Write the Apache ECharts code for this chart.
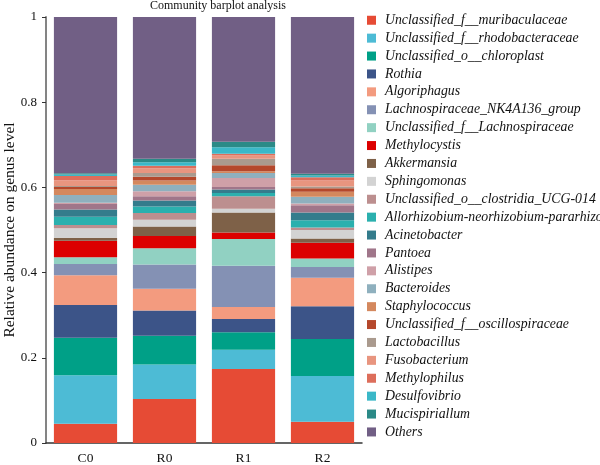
<!DOCTYPE html>
<html>
<head>
<meta charset="utf-8">
<script src="https://cdn.jsdelivr.net/npm/echarts@6/dist/echarts.min.js"></script>
<style>html,body{margin:0;padding:0;background:#fff}#c{width:600px;height:465px}</style>
</head>
<body>
<div id="c"></div>
<script>
const categories = ["C0", "R0", "R1", "R2"];
const genera = [
  "Unclassified_f__muribaculaceae",
  "Unclassified_f__rhodobacteraceae",
  "Unclassified_o__chloroplast",
  "Rothia",
  "Algoriphagus",
  "Lachnospiraceae_NK4A136_group",
  "Unclassified_f__Lachnospiraceae",
  "Methylocystis",
  "Akkermansia",
  "Sphingomonas",
  "Unclassified_o__clostridia_UCG-014",
  "Allorhizobium-neorhizobium-pararhizobium",
  "Acinetobacter",
  "Pantoea",
  "Alistipes",
  "Bacteroides",
  "Staphylococcus",
  "Unclassified_f__oscillospiraceae",
  "Lactobacillus",
  "Fusobacterium",
  "Methylophilus",
  "Desulfovibrio",
  "Mucispiriallum",
  "Others"
];
// values per genus, order C0, R0, R1, R2
const muribaculaceae   = [0.045, 0.103, 0.174, 0.050];
const rhodobacteraceae = [0.114, 0.081, 0.045, 0.107];
const chloroplast      = [0.088, 0.068, 0.041, 0.087];
const rothia           = [0.077, 0.059, 0.031, 0.077];
const algoriphagus     = [0.070, 0.051, 0.028, 0.067];
const nk4a136          = [0.026, 0.057, 0.097, 0.025];
const lachnospiraceae  = [0.016, 0.038, 0.063, 0.020];
const methylocystis    = [0.039, 0.029, 0.015, 0.037];
const akkermansia      = [0.007, 0.022, 0.047, 0.010];
const sphingomonas     = [0.022, 0.016, 0.009, 0.020];
const clostridia       = [0.008, 0.016, 0.029, 0.006];
const allorhizobium    = [0.019, 0.015, 0.008, 0.017];
const acinetobacter    = [0.017, 0.014, 0.008, 0.018];
const pantoea          = [0.013, 0.010, 0.006, 0.017];
const alistipes        = [0.003, 0.012, 0.021, 0.004];
const bacteroides      = [0.018, 0.015, 0.012, 0.016];
const staphylococcus   = [0.014, 0.010, 0.004, 0.012];
const oscillospiraceae = [0.005, 0.009, 0.014, 0.008];
const lactobacillus    = [0.002, 0.009, 0.015, 0.004];
const fusobacterium    = [0.014, 0.011, 0.008, 0.014];
const methylophilus    = [0.010, 0.006, 0.004, 0.008];
const desulfovibrio    = [0.003, 0.008, 0.015, 0.004];
const mucispiriallum   = [0.003, 0.008, 0.013, 0.004];
const others           = [0.367, 0.334, 0.293, 0.368];
const yTicks = [0, 0.2, 0.4, 0.6, 0.8, 1];

const seriesValues = [muribaculaceae, rhodobacteraceae, chloroplast, rothia, algoriphagus,
  nk4a136, lachnospiraceae, methylocystis, akkermansia, sphingomonas, clostridia,
  allorhizobium, acinetobacter, pantoea, alistipes, bacteroides, staphylococcus,
  oscillospiraceae, lactobacillus, fusobacterium, methylophilus, desulfovibrio,
  mucispiriallum, others];
const colors = ["#E64B35", "#4DBBD5", "#00A087", "#3C5488", "#F39B7F", "#8491B4", "#91D1C2",
  "#DC0000", "#7E6148", "#D3D3D3", "#BC8F8F", "#2BB0AE", "#347C8C", "#A0768A", "#CFA0A8",
  "#8FB0BE", "#D4885E", "#B5482C", "#AA9A8E", "#E8957F", "#DD6E5B", "#3BB8C8", "#2B8A87",
  "#715F85"];

const font = "'Liberation Serif', 'DejaVu Serif', serif";
const chart = echarts.init(document.getElementById('c'), null, {renderer: 'canvas'});
chart.setOption({
  animation: false,
  color: colors,
  title: {
    text: "Community barplot analysis",
    left: 218, top: 0, textAlign: 'center', padding: 0,
    textStyle: {fontFamily: font, fontSize: 12, fontWeight: 'normal', color: '#111'}
  },
  legend: {
    orient: 'vertical',
    left: 367, top: 13,
    itemWidth: 9, itemHeight: 9,
    itemGap: 3.4,
    icon: 'rect',
    padding: 0,
    textStyle: {fontFamily: font, fontStyle: 'italic', fontSize: 13.8, color: '#111', lineHeight: 14.5, padding: [0, 0, 0, 4]},
    data: genera
  },
  grid: {left: 46, right: 238, top: 17, bottom: 22, containLabel: false, outerBoundsMode: 'none'},
  xAxis: {
    type: 'category',
    data: categories,
    axisLine: {lineStyle: {color: '#333', width: 1.5}},
    axisTick: {alignWithLabel: true, length: 4, lineStyle: {color: '#333'}},
    axisLabel: {fontFamily: font, fontSize: 13.5, color: '#111', margin: 8}
  },
  yAxis: {
    type: 'value',
    min: yTicks[0], max: yTicks[yTicks.length - 1], interval: 0.2,
    name: "Relative abundance on genus level",
    nameLocation: 'middle', nameGap: 28, nameMoveOverlap: false,
    nameTextStyle: {fontFamily: font, fontSize: 15.5, color: '#111'},
    axisLine: {show: true, lineStyle: {color: '#777', width: 1.8}},
    axisTick: {show: true, length: 4, lineStyle: {color: '#333'}},
    splitLine: {show: false},
    axisLabel: {fontFamily: font, fontSize: 13, color: '#111', margin: 9,
      formatter: v => String(Math.round(v * 10) / 10)}
  },
  series: genera.map((name, i) => ({
    name: name,
    type: 'bar',
    stack: 'total',
    barWidth: '80%',
    data: seriesValues[i],
    itemStyle: {color: colors[i]}
  }))
});
</script>
</body>
</html>
